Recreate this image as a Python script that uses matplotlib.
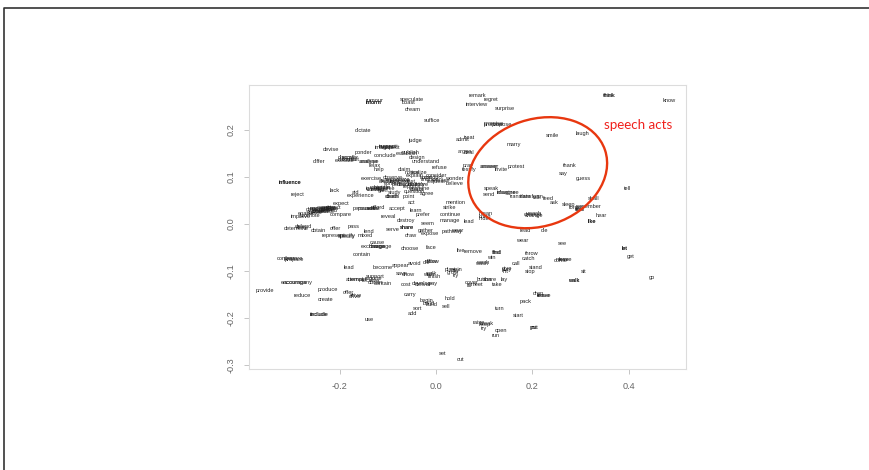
#!/usr/bin/env python3
"""Word map from a 2D embedding, with the speech act verbs circled."""
import matplotlib
matplotlib.use('Agg')
import matplotlib.pyplot as plt
from matplotlib.patches import Ellipse

W, H = 869, 470

x_ticks = [-0.2, 0.0, 0.2, 0.4]
y_ticks = [-0.3, -0.2, -0.1, 0.0, 0.1, 0.2]

upper_left = [
    ("rumour", -.127, .264), ("inform", -.130, .259), ("inform", -.129, .258),
    ("speculate", -.050, .266), ("boast", -.057, .258), ("dream", -.048, .243),
    ("suffice", -.009, .220), ("dictate", -.151, .200), ("judge", -.043, .178),
    ("devise", -.217, .159), ("suggest", -.098, .164), ("imagine", -.106, .162),
    ("ponder", -.151, .152), ("conclude", -.106, .145), ("publish", -.052, .152),
    ("establish", -.060, .151), ("differ", -.242, .132), ("discover", -.182, .142),
    ("discuss", -.185, .138), ("analyse", -.140, .134), ("analyse", -.137, .134),
    ("design", -.040, .141), ("understand", -.021, .133), ("refuse", .008, .121),
    ("relax", -.127, .124), ("help", -.118, .115), ("influence", -.304, .088),
    ("influence", -.303, .088), ("exercise", -.134, .097), ("reject", -.287, .063),
    ("lack", -.211, .071), ("experience", -.156, .060), ("aid", -.166, .067),
    ("death", -.092, .059), ("death", -.090, .059), ("point", -.056, .058),
    ("agree", -.019, .065), ("act", -.050, .045), ("accept", -.080, .033),
    ("persuade", -.148, .033), ("afford", -.120, .034), ("reveal", -.099, .016),
    ("destroy", -.062, .008), ("prefer", -.026, .021), ("learn", -.042, .029),
    ("seem", -.017, .001), ("compare", -.198, .021), ("encourage", -.235, .033),
    ("enjoy", -.222, .036), ("expect", -.196, .043), ("prove", -.225, .030),
    ("protect", -.240, .026), ("attract", -.252, .024), ("promote", -.262, .018),
    ("improve", -.280, .015), ("enable", -.270, .022),
    ("believe", .039, .087), ("wonder", .038, .097), ("consider", .001, .104),
    ("manage", .029, .008), ("strike", .029, .036), ("mention", .041, .045),
    ("continue", .030, .021), ("claim", -.066, .117), ("notice", -.050, .110),
    ("realize", -.035, .110), ("explain", -.045, .104), ("observe", -.090, .098),
    ("recognize", -.080, .095), ("assume", -.095, .092), ("indicate", -.075, .090),
    ("describe", -.060, .085), ("identify", -.040, .083), ("examine", -.035, .075),
    ("maintain", -.115, .078), ("achieve", -.105, .076), ("gain", -.110, .072),
    ("contact", -.125, .074), ("study", -.085, .068), ("question", -.045, .070),
    ("doubt", -.040, .074), ("figure", -.028, .085), ("hope", -.020, .100),
    ("admit", .055, .180), ("argue", .060, .155), ("release", .010, .092),
    ("conduct", -.005, .100), ("finance", -.012, .095), ("request", .000, .090),
]

# the darkest overlapping clumps of the upper left part
dense_words = [
    ("develop", -.250, .030), ("perform", -.242, .032), ("acquire", -.234, .030),
    ("secure", -.226, .034), ("obtain", -.218, .032), ("attain", -.246, .026),
    ("ensure", -.238, .028), ("assess", -.230, .026), ("extend", -.222, .028),
    ("attract", -.212, .034), ("possess", -.140, .033), ("resist", -.130, .033),
    ("recall", -.182, .142), ("consult", -.176, .138), ("execute", -.190, .136),
    ("ignore", -.130, .076), ("invest", -.120, .074), ("handle", -.112, .078),
    ("display", -.100, .090), ("confirm", -.088, .086), ("perceive", -.070, .084),
    ("report", -.055, .080), ("test", -.050, .090), ("solve", -.065, .092),
    ("suspect", -.095, .162), ("inspect", -.100, .166),
]

lower_left = [
    ("determine", -.289, -.009), ("defend", -.275, -.006), ("deny", -.278, -.008),
    ("obtain", -.244, -.013), ("offer", -.208, -.009), ("pass", -.170, -.006),
    ("represent", -.213, -.025), ("specify", -.185, -.026), ("specify", -.186, -.024),
    ("lend", -.140, -.016), ("mixed", -.146, -.024), ("serve", -.089, -.011),
    ("share", -.061, -.008), ("share", -.060, -.007), ("draw", -.053, -.024),
    ("expose", -.012, -.021), ("gather", -.021, -.015), ("pathway", .033, -.016),
    ("wear", .045, -.013), ("cause", -.122, -.039), ("exchange", -.130, -.048),
    ("manage", -.113, -.049), ("charge", -.122, -.047), ("contain", -.153, -.066),
    ("choose", -.055, -.052), ("face", -.010, -.050), ("live", .052, -.056),
    ("confess", -.310, -.073), ("prepare", -.293, -.075), ("prepare", -.297, -.073),
    ("lead", -.181, -.093), ("become", -.111, -.092), ("appear", -.073, -.089),
    ("avoid", -.044, -.084), ("die", -.020, -.083), ("allow", -.006, -.079),
    ("allow", -.010, -.080), ("encourage", -.294, -.124), ("accompany", -.285, -.124),
    ("provide", -.355, -.141), ("produce", -.224, -.140), ("reduce", -.278, -.153),
    ("create", -.230, -.161), ("offer", -.181, -.146), ("drive", -.168, -.154),
    ("drive", -.167, -.153), ("include", -.243, -.193), ("include", -.242, -.193),
    ("use", -.138, -.204), ("remain", -.161, -.118), ("attempt", -.168, -.118),
    ("support", -.127, -.111), ("require", -.130, -.116), ("obtain", -.125, -.124),
    ("contain", -.110, -.126), ("receive", -.135, -.120), ("save", -.071, -.106),
    ("show", -.057, -.107), ("cost", -.062, -.130), ("deliver", -.026, -.129),
    ("develop", -.030, -.127), ("pay", -.006, -.127), ("carry", -.053, -.150),
    ("add", -.049, -.190), ("sort", -.039, -.180), ("begin", -.019, -.164),
    ("build", -.009, -.171), ("build", -.015, -.169), ("sell", .021, -.175),
    ("hold", .030, -.158), ("set", .013, -.277), ("cut", .050, -.288),
    ("walk", -.010, -.105), ("wish", -.015, -.107), ("finish", -.003, -.113),
    ("buy", .039, -.100), ("try", .042, -.110), ("grow", .035, -.103),
    ("plan", .030, -.098), ("join", .045, -.098),
]

speech_acts = [
    ("remark", .087, .273), ("regret", .115, .265), ("interview", .084, .254),
    ("surprise", .143, .245), ("promise", .119, .213), ("promise", .120, .212),
    ("propose", .136, .212), ("treat", .069, .185), ("smile", .242, .188),
    ("laugh", .304, .193), ("marry", .161, .170), ("deal", .069, .152),
    ("thank", .278, .124), ("say", .264, .107), ("guess", .306, .097),
    ("answer", .112, .123), ("answer", .110, .122), ("invite", .136, .117),
    ("protest", .167, .122), ("pray", .067, .125), ("testify", .070, .115),
    ("speak", .116, .075), ("send", .110, .063), ("imagine", .147, .068),
    ("disagree", .150, .067), ("translate", .175, .059), ("transform", .199, .058),
    ("talk", .210, .056), ("feed", .233, .054), ("ask", .245, .045),
    ("sleep", .275, .041), ("shall", .328, .054), ("tell", .398, .076),
    ("remember", .316, .037), ("forget", .290, .036), ("feel", .299, .030),
    ("feel", .298, .031), ("think", .360, .274), ("think", .361, .274),
    ("know", .484, .264), ("hear", .343, .017), ("like", .323, .006),
    ("like", .324, .005), ("change", .202, .020), ("change", .203, .019),
    ("reach", .205, .023), ("lead", .069, .006), ("mean", .103, .023),
    ("bring", .102, .016), ("hide", .100, .012),
]

lower_right = [
    ("read", .185, -.013), ("die", .225, -.014), ("wear", .178, -.036),
    ("see", .262, -.041), ("let", .391, -.053), ("let", .392, -.053),
    ("get", .404, -.070), ("go", .449, -.115), ("find", .126, -.060),
    ("find", .127, -.060), ("win", .114, -.072), ("throw", .200, -.064),
    ("catch", .193, -.073), ("call", .167, -.085), ("stand", .208, -.092),
    ("stop", .195, -.102), ("sit", .306, -.102), ("walk", .285, -.120),
    ("walk", .286, -.120), ("leave", .268, -.075), ("come", .258, -.078),
    ("move", .262, -.075), ("wash", .095, -.084), ("wash", .096, -.083),
    ("play", .147, -.098), ("give", .148, -.094), ("hit", .145, -.101),
    ("lay", .142, -.119), ("take", .128, -.129), ("share", .112, -.118),
    ("button", .100, -.119), ("remove", .078, -.059), ("meet", .085, -.128),
    ("cover", .075, -.125), ("fill", .070, -.132), ("turn", .132, -.181),
    ("pack", .186, -.165), ("drop", .213, -.149), ("leave", .224, -.152),
    ("leave", .225, -.152), ("start", .171, -.195), ("put", .203, -.220),
    ("put", .204, -.220), ("open", .136, -.226), ("run", .124, -.238),
    ("raise", .089, -.210), ("keep", .102, -.215), ("try", .100, -.223),
    ("break", .105, -.213),
]

fig = plt.figure(figsize=(W / 100, H / 100), dpi=100)

ax = fig.add_axes([249 / W, 1 - 369 / H, (686 - 249) / W, (369 - 85) / H])
ax.set_xlim(-.388, .519)
ax.set_ylim(-.309, .296)
ax.set_xticks(x_ticks)
ax.set_xticklabels([f"{t:.1f}" for t in x_ticks], fontsize=6.6, color='#666666',
                   family='Liberation Sans')
ax.set_yticks(y_ticks)
ax.set_yticklabels([f"{t:.1f}" for t in y_ticks], fontsize=6.6, color='#666666',
                   family='Liberation Sans', rotation=90, va='center')
ax.tick_params(length=3.5, width=0.6, color='#bbbbbb', pad=6)
for side in ax.spines.values():
    side.set_color('#dcdcdc')
    side.set_linewidth(0.8)

for group in (upper_left, dense_words, lower_left, speech_acts, lower_right):
    for word, x, y in group:
        ax.text(x, y, word, fontsize=4.1, family='Liberation Sans', color='#222222',
                ha='center', va='center')

# overlay in image pixels for the slide border and the hand drawn note
over = fig.add_axes([0, 0, 1, 1], facecolor='none')
over.set_xlim(0, W)
over.set_ylim(0, H)
over.axis('off')
over.plot([4, 4, W], [0, H - 8, H - 8], color='#333333', lw=1.2)
over.add_patch(Ellipse((537.7, H - 172.7), 142, 107, angle=18.6, fill=False,
                       edgecolor='#e8370f', lw=1.7))
over.text(638.5, H - 125, "speech acts", color='#f0201c', fontsize=9.6,
          family='Lato', ha='center', va='center')

fig.savefig('out.png', dpi=100)
